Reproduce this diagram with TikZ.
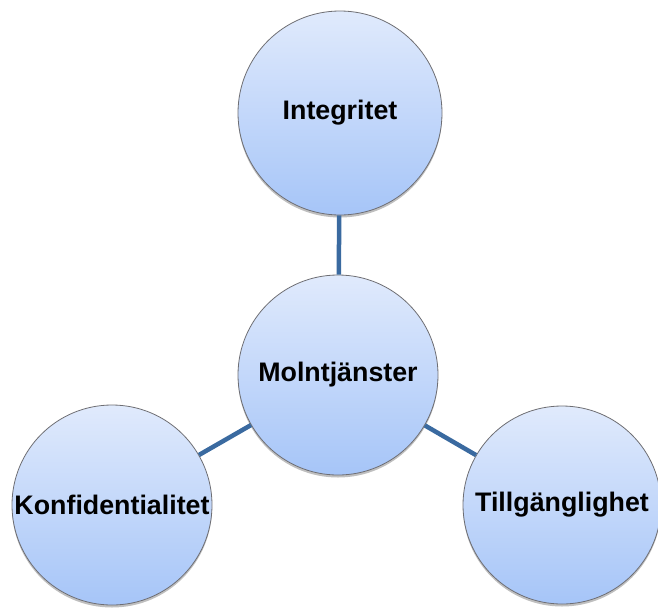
\documentclass[tikz,border=0pt]{standalone}
\usepackage{fontspec}
\setmainfont{Liberation Sans}
\usetikzlibrary{shadows}
\definecolor{topc}{RGB}{224,234,252}
\definecolor{botc}{RGB}{166,197,248}
\definecolor{edgec}{RGB}{58,106,160}
\definecolor{rimc}{RGB}{110,110,115}
\tikzset{
  bubble/.style={circle, draw=rimc, line width=0.8pt, top color=topc, bottom color=botc,
    minimum size=200pt, inner sep=0pt, font=\bfseries\fontsize{26.8}{32}\selectfont,
    drop shadow={shadow xshift=0pt, shadow yshift=-2.5pt, opacity=0.25, fill=black}},
  link/.style={draw=edgec, line width=4.5pt}
}
\begin{document}
\begin{tikzpicture}[x=1pt,y=-1pt]
\useasboundingbox (0,0) rectangle (658,608);
\begin{scope}
\clip (0,0) rectangle (658,608);
\node[bubble, minimum size=204pt] (top) at (340,113) {Integritet};
\node[bubble] (mid) at (338,375) {Molntjänster};
\node[bubble] (left) at (112,505) {Konfidentialitet};
\node[bubble, minimum size=198pt] (right) at (562,505) {Tillgänglighet};
\draw[link] (top) -- (mid);
\draw[link] (mid) -- (left);
\draw[link] (mid) -- (right);
\end{scope}
\end{tikzpicture}
\end{document}
